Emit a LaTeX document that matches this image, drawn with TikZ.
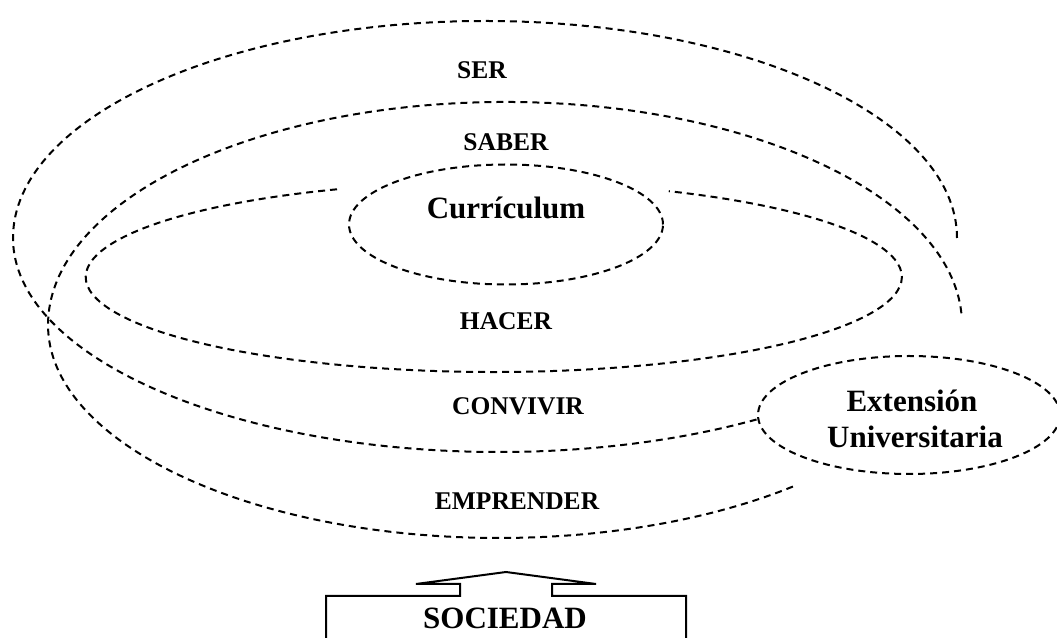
\documentclass[tikz,border=0pt]{standalone}
\usepackage{fontspec}
\setmainfont{Liberation Serif}
\usetikzlibrary{shapes.geometric}
\begin{document}
\begin{tikzpicture}[x=1pt,y=1pt,
  ring/.style={line width=2pt, dash pattern=on 7pt off 5pt},
  oval/.style={ellipse, draw, ring, inner sep=0pt},
  lbl/.style={font=\bfseries\fontsize{25.5}{30}\selectfont, anchor=base, inner sep=0pt},
  bigtxt/.style={font=\bfseries\fontsize{31}{36}\selectfont, anchor=base, inner sep=0pt},
  frame/.style={line width=2pt, line join=miter}]
\useasboundingbox (0,0) rectangle (1057,637);
\clip (0,0) rectangle (1057,637);

% outer spiral arm: SER above, CONVIVIR below
\draw[ring] (957,399) arc[start angle=0, end angle=180, x radius=472, y radius=217]
                     arc[start angle=180, end angle=302, x radius=486, y radius=214];
% second arm: SABER above, EMPRENDER below
\draw[ring] (961.4,323.7) arc[start angle=3, end angle=180, x radius=457, y radius=223]
                          arc[start angle=180, end angle=311, x radius=451, y radius=213];
% inner ring around HACER, open at the curriculum
\draw[ring] (337,447.7) arc[start angle=112.6, end angle=424.6, x radius=408, y radius=95];

% curriculum and university extension
\node[oval, minimum width=314pt, minimum height=120pt] (curr) at (506,412.5) {};
\node[oval, minimum width=302pt, minimum height=118pt] (ext) at (909,222) {};

% labels
\node[lbl] (ser) at (482,558) {SER};
\node[lbl] (saber) at (506,486) {SABER};
\node[bigtxt] (currtxt) at (506,418) {Currículum};
\node[lbl] (hacer) at (506,307) {HACER};
\node[lbl] (convivir) at (518,222) {CONVIVIR};
\node[lbl] (emprender) at (517,127) {EMPRENDER};
\node[bigtxt] (ext1) at (912,225) {Extensión};
\node[bigtxt] (ext2) at (915,189) {Universitaria};

% society box with its upward arrow
\draw[frame] (326,-10) -- (326,41) -- (460,41) -- (460,53) -- (416,53) -- (506,65)
  -- (596,53) -- (552,53) -- (552,41) -- (686,41) -- (686,-10);
\node[bigtxt] (soc) at (505,9) {SOCIEDAD};
\end{tikzpicture}
\end{document}
